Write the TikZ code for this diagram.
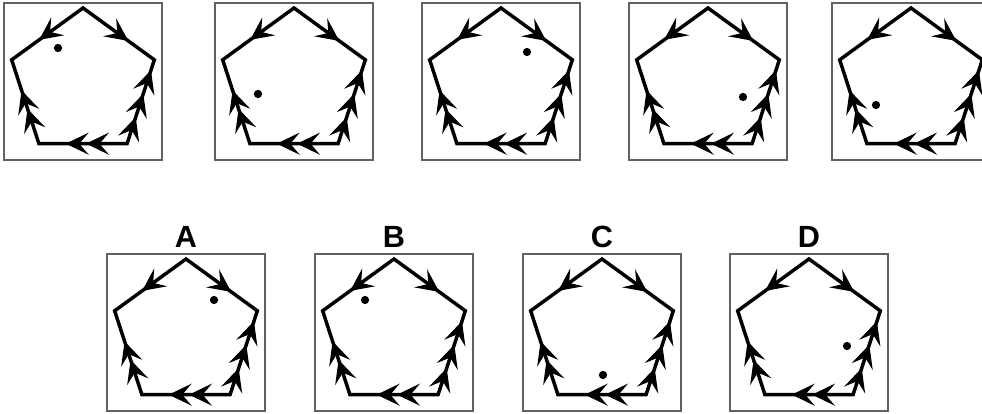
\documentclass[tikz,border=0pt]{standalone}
\usepackage{fontspec}
\setsansfont{Liberation Sans}
\usetikzlibrary{decorations.markings,positioning}

\begin{document}
\begin{tikzpicture}[x=0.75pt,y=0.75pt,line width=2.6pt]
  \tikzstyle{frame}=[draw=black!62,line width=1.1pt,inner sep=0pt,
                     minimum width=118.5pt,minimum height=117.75pt]
  \tikzstyle{side}=[line join=miter]
  \tikzstyle{lbl}=[font=\sffamily\bfseries\fontsize{23}{23}\selectfont,inner sep=0pt]
  \tikzset{ar/.style={postaction={decorate,decoration={markings,
      mark=at position #1 with {\filldraw[line width=0.9pt,line join=miter]
          (0,0) -- (-14.5pt,7pt) -- (-8.5pt,0) -- (-14.5pt,-7pt) -- cycle;}}}}}

  \useasboundingbox (0,0) rectangle (982,414);

  % panels: name / centre x / centre y / dot offset
  \foreach \n/\cx/\cy/\dx/\dy in {1/83/332.5/-25/35, 2/294/332.5/-36/-11,
      3/501/332.5/26/31, 4/708/332.5/35/-14, 5/911/332.5/-35/-22,
      A/186/81.5/28/34, B/394/81.5/-29/34, C/602/81.5/1/-41, D/809/81.5/38/-12}
  {
    \node[frame] (box\n) at (\cx,\cy) {};
    \begin{scope}[shift={(\cx,\cy-1.5)}]
      \coordinate (t\n)  at (90:75);
      \coordinate (l\n)  at (162:75);
      \coordinate (bl\n) at (234:75);
      \coordinate (br\n) at (306:75);
      \coordinate (r\n)  at (18:75);
      \fill (\dx,\dy) circle[radius=3.1pt];
    \end{scope}
    \draw[side] (t\n) -- (r\n) -- (br\n) -- (bl\n) -- (l\n) -- cycle;
    \path[ar=0.6] (t\n) -- (l\n);
    \path[ar=0.62] (t\n) -- (r\n);
    \path[ar=0.3,ar=0.58,ar=0.86] (br\n) -- (r\n);
    \path[ar=0.45,ar=0.68] (br\n) -- (bl\n);
    \path[ar=0.4,ar=0.62] (bl\n) -- (l\n);
  }

  \node[lbl,above=3pt of boxA] (lblA) {A};
  \node[lbl,above=3pt of boxB] (lblB) {B};
  \node[lbl,above=3pt of boxC] (lblC) {C};
  \node[lbl,above=3pt of boxD] (lblD) {D};
\end{tikzpicture}
\end{document}
